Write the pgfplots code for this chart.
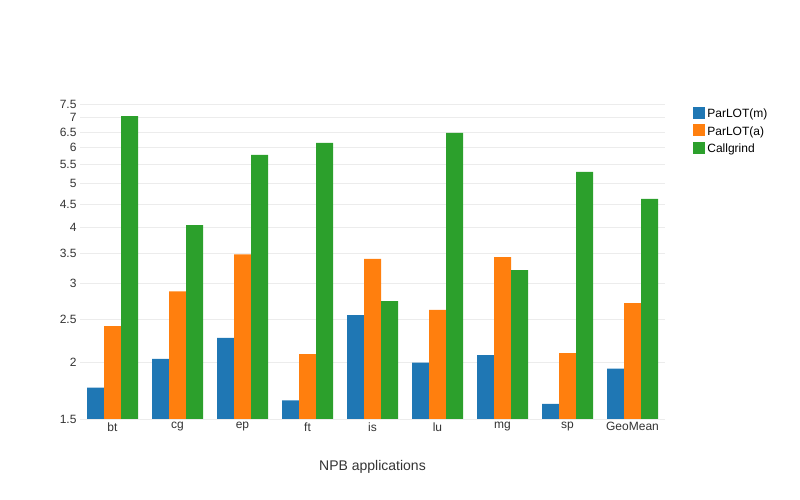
\documentclass[border=0pt]{standalone}
\usepackage{pgfplots}
\pgfplotsset{compat=1.18}
\usepackage{fontspec}
\setmainfont{Liberation Sans}
\definecolor{c1}{HTML}{1F77B4}
\definecolor{c2}{HTML}{FF7F0E}
\definecolor{c3}{HTML}{2CA02C}
\begin{document}
\begin{tikzpicture}[x=1pt,y=1pt]
\path[use as bounding box] (0,0) rectangle (800,500);
\begin{axis}[at={(80pt,81pt)},anchor=south west,scale only axis,width=585pt,height=315pt,
 ymode=log, log origin=infty, ymin=1.5, ymax=7.5,
 xmin=-0.5,xmax=8.5, xtick=data, xticklabels={bt,cg,ep,ft,is,lu,mg,sp,GeoMean},
 ytick={1.5,2,2.5,3,3.5,4,4.5,5,5.5,6,6.5,7,7.5},
 yticklabels={1.5,2,2.5,3,3.5,4,4.5,5,5.5,6,6.5,7,7.5},
 ymajorgrids, grid style={gray!15}, axis line style={draw=none}, major tick length=0pt,
 tick label style={font=\fontsize{12}{14}\selectfont,color=black!80},
 /pgf/number format/assume math mode=true,
 ybar=0pt, bar width=17pt,
 legend style={at={(1.043,0.997)},anchor=north west,draw=none,font=\fontsize{12}{14}\selectfont,row sep=3pt},
 legend cell align=left, legend image code/.code={\fill[#1] (0pt,-5pt) rectangle (12pt,7pt);},
]
\addplot[fill=c1,draw=none] coordinates {(0,1.76)(1,2.04)(2,2.27)(3,1.65)(4,2.55)(5,2.0)(6,2.08)(7,1.62)(8,1.94)};
\addplot[fill=c2,draw=none] coordinates {(0,2.41)(1,2.88)(2,3.48)(3,2.09)(4,3.40)(5,2.62)(6,3.43)(7,2.10)(8,2.71)};
\addplot[fill=c3,draw=none] coordinates {(0,7.05)(1,4.04)(2,5.78)(3,6.15)(4,2.74)(5,6.47)(6,3.21)(7,5.30)(8,4.62)};
\legend{ParLOT(m),ParLOT(a),Callgrind}
\end{axis}
\node[font=\fontsize{14}{16}\selectfont,color=black!80] at (372.5,33) {NPB applications};
\end{tikzpicture}
\end{document}
